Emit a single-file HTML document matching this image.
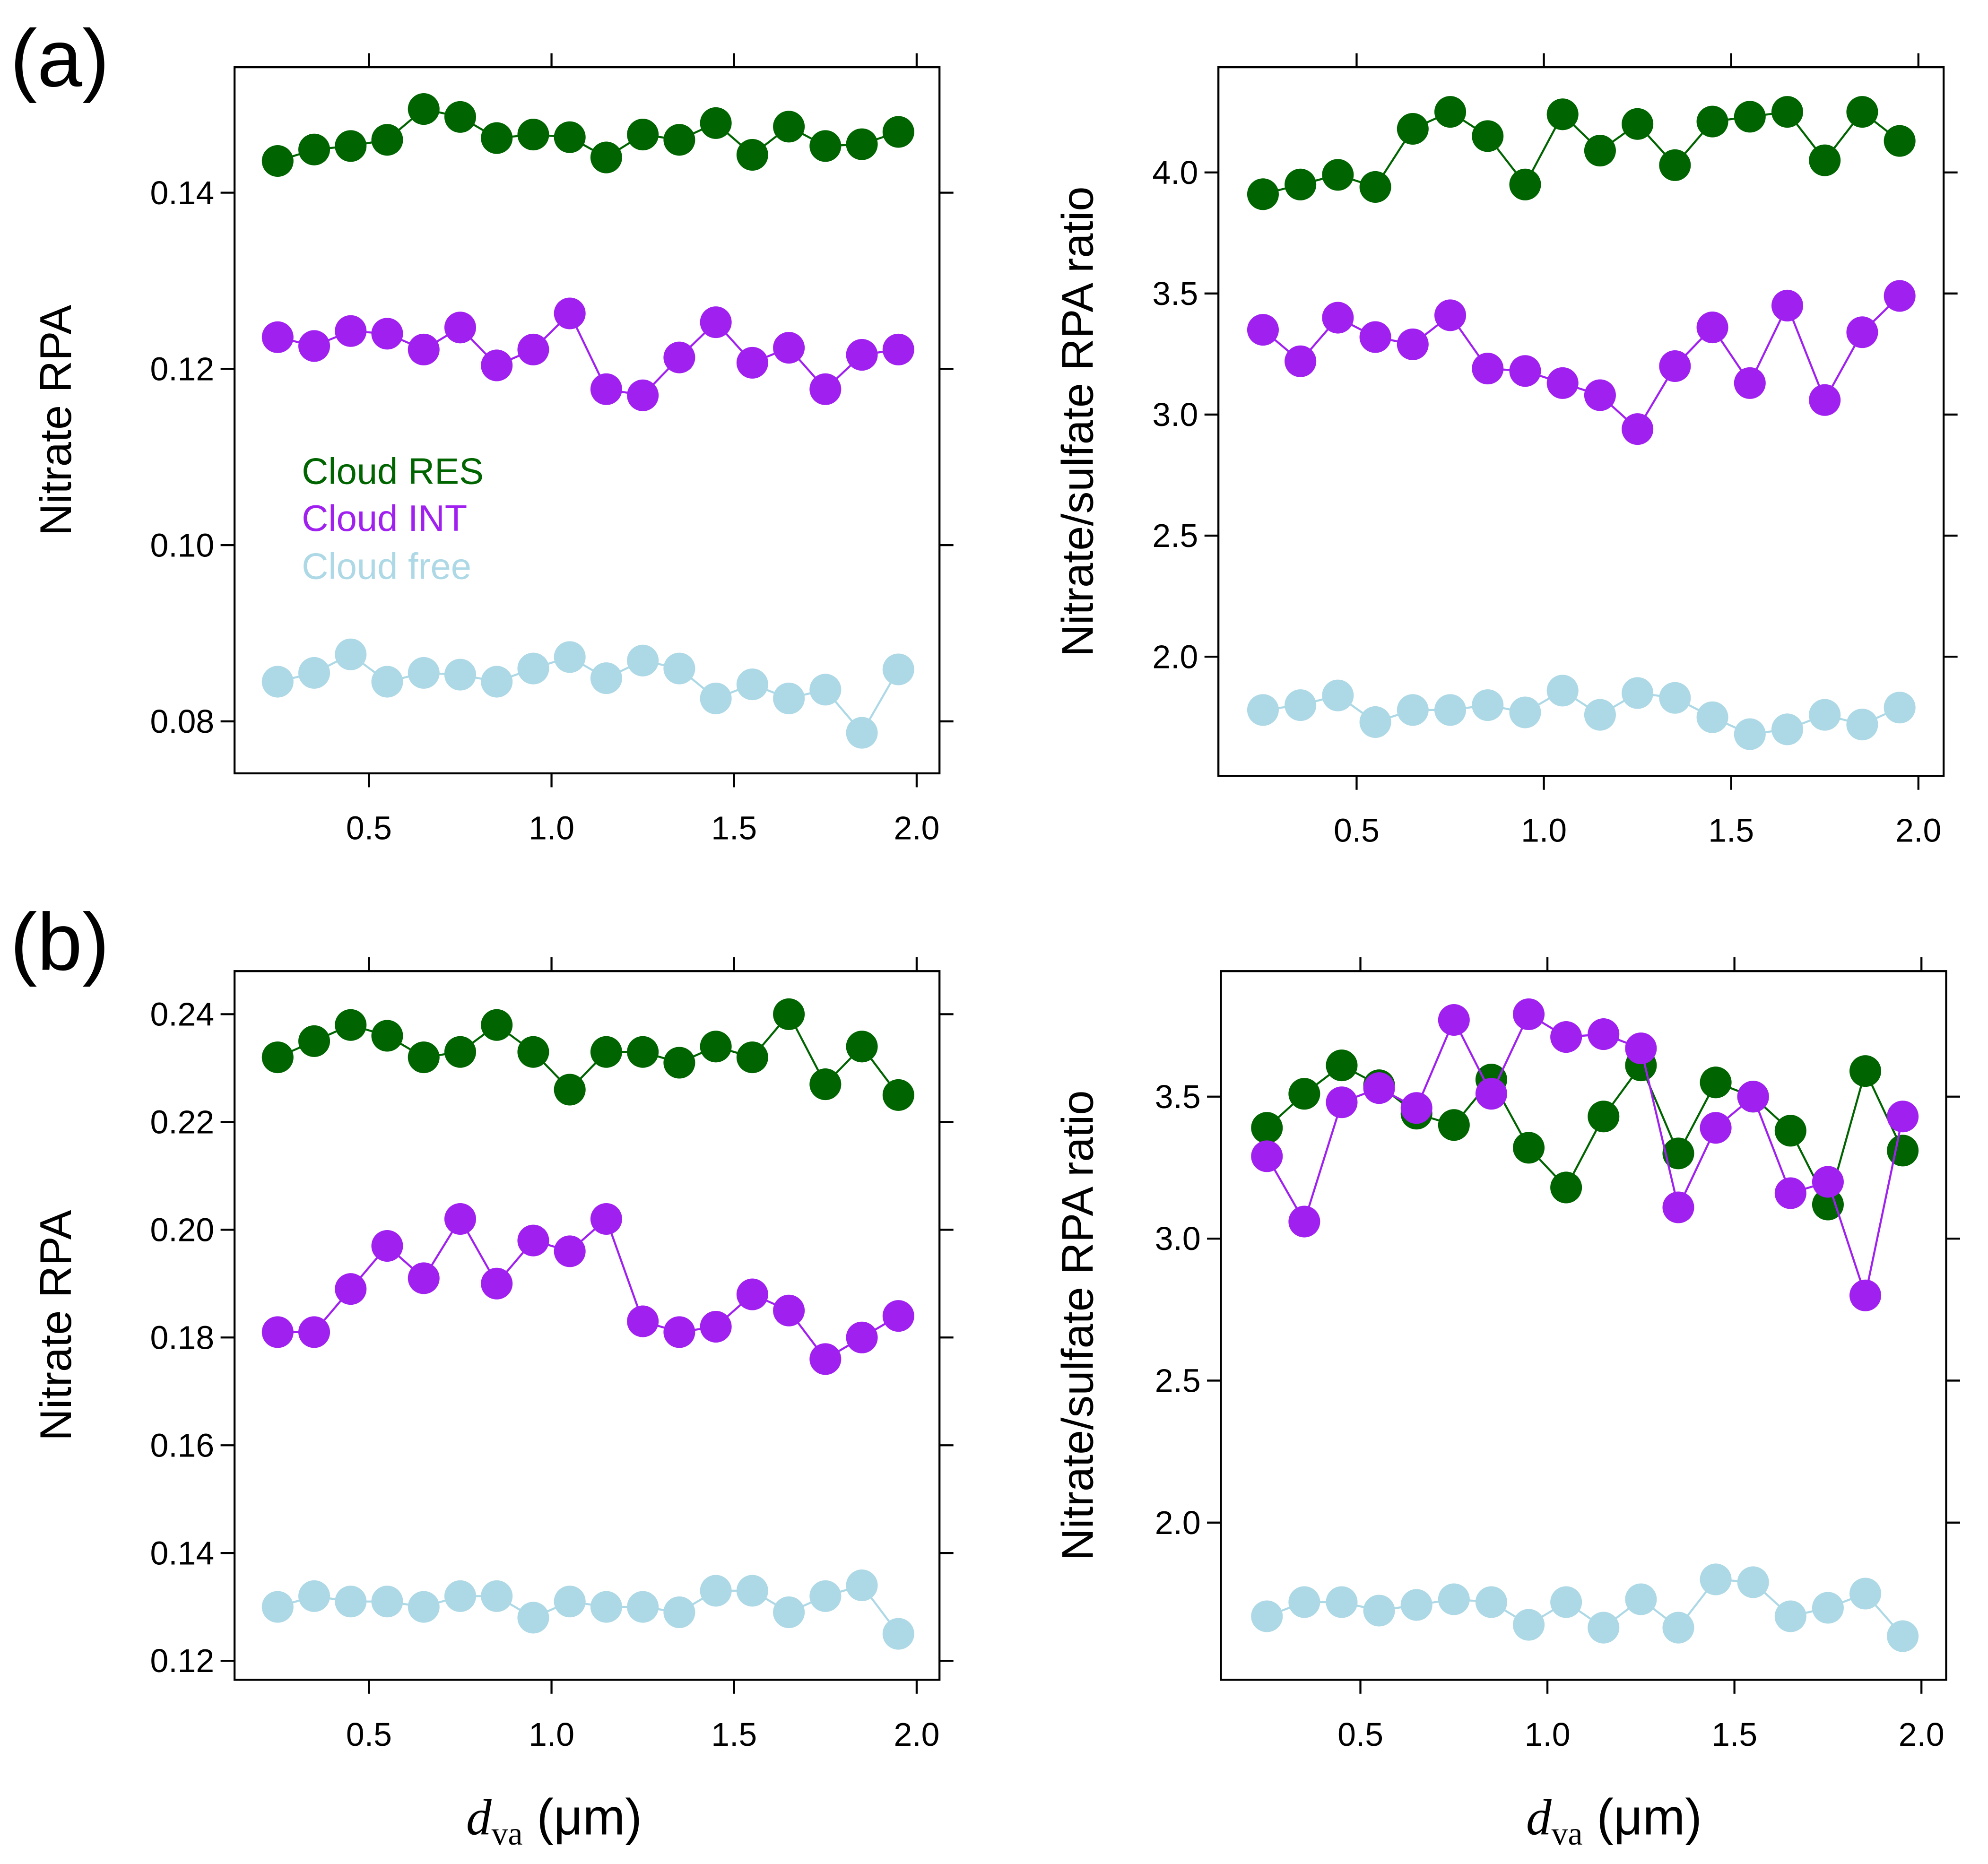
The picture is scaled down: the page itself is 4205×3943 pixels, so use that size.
<!DOCTYPE html>
<html><head><meta charset="utf-8"><style>
html,body{margin:0;padding:0;background:#fff}
svg{display:block}
text{font-family:"Liberation Sans","DejaVu Sans",sans-serif}
</style></head><body>
<svg id="fig" xmlns="http://www.w3.org/2000/svg" width="4205" height="3943" viewBox="0 0 1568 1470.3">
<rect width="1568" height="1470.3" fill="#fff"/>
<text x="8" y="68" font-size="64">(a)</text>
<text x="8" y="765" font-size="64">(b)</text>
<text x="238" y="374" font-size="29" fill="#006400" dominant-baseline="middle">Cloud RES</text>
<text x="238" y="411" font-size="29" fill="#a020f0" dominant-baseline="middle">Cloud INT</text>
<text x="238" y="449" font-size="29" fill="#add8e6" dominant-baseline="middle">Cloud free</text>
<text x="437" y="1447" font-size="40" text-anchor="middle"><tspan font-style="italic" font-family="Liberation Serif">d</tspan><tspan font-family="Liberation Serif" font-size="26" dy="8">va</tspan><tspan dy="-8"> (μm)</tspan></text>
<text x="1273" y="1447" font-size="40" text-anchor="middle"><tspan font-style="italic" font-family="Liberation Serif">d</tspan><tspan font-family="Liberation Serif" font-size="26" dy="8">va</tspan><tspan dy="-8"> (μm)</tspan></text>
</svg>
<script>
const xVals = [0.25,0.35,0.45,0.55,0.65,0.75,0.85,0.95,1.05,1.15,1.25,1.35,1.45,1.55,1.65,1.75,1.85,1.95];
const xTicks = [0.5,1.0,1.5,2.0];
const xTickLabels = ["0.5","1.0","1.5","2.0"];
const aLeftRes = [.1436,.1449,.1453,.1460,.1495,.1486,.1462,.1466,.1463,.1440,.1466,.1460,.1479,.1443,.1475,.1453,.1455,.1469];
const aLeftInt = [.1236,.1226,.1243,.1240,.1222,.1247,.1204,.1222,.1263,.1177,.1170,.1213,.1253,.1207,.1224,.1177,.1216,.1222];
const aLeftFree = [.0845,.0855,.0876,.0845,.0855,.0853,.0845,.0860,.0873,.0849,.0869,.0860,.0826,.0842,.0826,.0836,.0787,.0859];
const aLeftTicks = [0.08,0.10,0.12,0.14];
const aLeftTickLabels = ["0.08","0.10","0.12","0.14"];
const aRightRes = [3.91,3.95,3.99,3.94,4.18,4.25,4.15,3.95,4.24,4.09,4.20,4.03,4.21,4.23,4.25,4.05,4.25,4.13];
const aRightInt = [3.35,3.22,3.40,3.32,3.29,3.41,3.19,3.18,3.13,3.08,2.94,3.20,3.36,3.13,3.45,3.06,3.34,3.49];
const aRightFree = [1.78,1.80,1.84,1.73,1.78,1.78,1.80,1.77,1.86,1.76,1.85,1.83,1.75,1.68,1.70,1.76,1.72,1.79];
const aRightTicks = [2.0,2.5,3.0,3.5,4.0];
const aRightTickLabels = ["2.0","2.5","3.0","3.5","4.0"];
const bLeftRes = [.232,.235,.238,.236,.232,.233,.238,.233,.226,.233,.233,.231,.234,.232,.240,.227,.234,.225];
const bLeftInt = [.181,.181,.189,.197,.191,.202,.190,.198,.196,.202,.183,.181,.182,.188,.185,.176,.180,.184];
const bLeftFree = [.130,.132,.131,.131,.130,.132,.132,.128,.131,.130,.130,.129,.133,.133,.129,.132,.134,.125];
const bLeftTicks = [0.12,0.14,0.16,0.18,0.20,0.22,0.24];
const bLeftTickLabels = ["0.12","0.14","0.16","0.18","0.20","0.22","0.24"];
const bRightRes = [3.39,3.51,3.61,3.54,3.44,3.40,3.56,3.32,3.18,3.43,3.61,3.30,3.55,3.50,3.38,3.12,3.59,3.31];
const bRightInt = [3.29,3.06,3.48,3.53,3.46,3.77,3.51,3.79,3.71,3.72,3.67,3.11,3.39,3.50,3.16,3.20,2.80,3.43];
const bRightFree = [1.67,1.72,1.72,1.69,1.71,1.73,1.72,1.64,1.72,1.63,1.73,1.63,1.80,1.79,1.67,1.70,1.75,1.60];
const bRightTicks = [2.0,2.5,3.0,3.5];
const bRightTickLabels = ["2.0","2.5","3.0","3.5"];

const NS = "http://www.w3.org/2000/svg";
const svg = document.getElementById('fig');
function mk(tag, attrs, parent){
  const e = document.createElementNS(NS, tag);
  for (const k in attrs) e.setAttribute(k, attrs[k]);
  (parent||svg).appendChild(e);
  return e;
}
function panel(name, box, xs, ys, series, yTicks, yLabels, yTitle, titleX){
  const g = mk('g', {});
  
  
  const X = v => xs.p0 + (v - xs.v0) * xs.k;
  const Y = v => ys.p0 - (v - ys.v0) * ys.k;
  const frame = mk('rect', {x:box.x0, y:box.y0, width:box.x1-box.x0, height:box.y1-box.y0, fill:'none', stroke:'#000', 'stroke-width':1.6}, g);
  
  
  xTicks.forEach((t,i)=>{
    const x = X(t);
    mk('line',{x1:x,x2:x,y1:box.y1,y2:box.y1+11,stroke:'#000','stroke-width':1.6},g);
    mk('line',{x1:x,x2:x,y1:box.y0,y2:box.y0-11,stroke:'#000','stroke-width':1.6},g);
    const tl = mk('text',{x:x,y:box.y1+52,'font-size':26,'text-anchor':'middle'},g);
    tl.textContent = xTickLabels[i];
    
    
  });
  yTicks.forEach((t,i)=>{
    const y = Y(t);
    mk('line',{x1:box.x0,x2:box.x0-11,y1:y,y2:y,stroke:'#000','stroke-width':1.6},g);
    mk('line',{x1:box.x1,x2:box.x1+11,y1:y,y2:y,stroke:'#000','stroke-width':1.6},g);
    const tl = mk('text',{x:box.x0-16,y:y+9,'font-size':26,'text-anchor':'end'},g);
    tl.textContent = yLabels[i];
    
    
  });
  const yt = mk('text',{x:0,y:0,'font-size':35,'text-anchor':'middle',transform:`translate(${titleX},${(box.y0+box.y1)/2}) rotate(-90)`},g);
  yt.textContent = yTitle;
  
  
  series.forEach(s=>{
    const pts = xVals.map((xv,i)=>X(xv)+','+Y(s.data[i])).join(' ');
    const ln = mk('polyline',{points:pts,fill:'none',stroke:s.color,'stroke-width':1.6},g);
    
    
    xVals.forEach((xv,i)=>{
      const c = mk('circle',{cx:X(xv),cy:Y(s.data[i]),r:12.5,fill:s.color},g);
      
      
    });
  });
}
const G='#006400', P='#a020f0', L='#add8e6';
panel('panel-a-nitrate-rpa',{x0:185,x1:741,y0:53,y1:610},{v0:0.5,p0:291,k:288},{v0:0.14,p0:152,k:6950},
  [{name:'cloud-free',data:aLeftFree,color:L},{name:'cloud-int',data:aLeftInt,color:P},{name:'cloud-res',data:aLeftRes,color:G}],
  aLeftTicks,aLeftTickLabels,'Nitrate RPA',56);
panel('panel-a-ratio',{x0:961,x1:1533,y0:53,y1:612},{v0:0.5,p0:1070,k:295.4},{v0:4.0,p0:136,k:191},
  [{name:'cloud-free',data:aRightFree,color:L},{name:'cloud-int',data:aRightInt,color:P},{name:'cloud-res',data:aRightRes,color:G}],
  aRightTicks,aRightTickLabels,'Nitrate/sulfate RPA ratio',862);
panel('panel-b-nitrate-rpa',{x0:185,x1:741,y0:766,y1:1325},{v0:0.5,p0:291,k:288},{v0:0.24,p0:800,k:4250},
  [{name:'cloud-free',data:bLeftFree,color:L},{name:'cloud-int',data:bLeftInt,color:P},{name:'cloud-res',data:bLeftRes,color:G}],
  bLeftTicks,bLeftTickLabels,'Nitrate RPA',56);
panel('panel-b-ratio',{x0:963,x1:1535,y0:766,y1:1325},{v0:0.5,p0:1073,k:295},{v0:3.5,p0:865,k:224},
  [{name:'cloud-free',data:bRightFree,color:L},{name:'cloud-res',data:bRightRes,color:G},{name:'cloud-int',data:bRightInt,color:P}],
  bRightTicks,bRightTickLabels,'Nitrate/sulfate RPA ratio',862);
</script>
</body></html>
